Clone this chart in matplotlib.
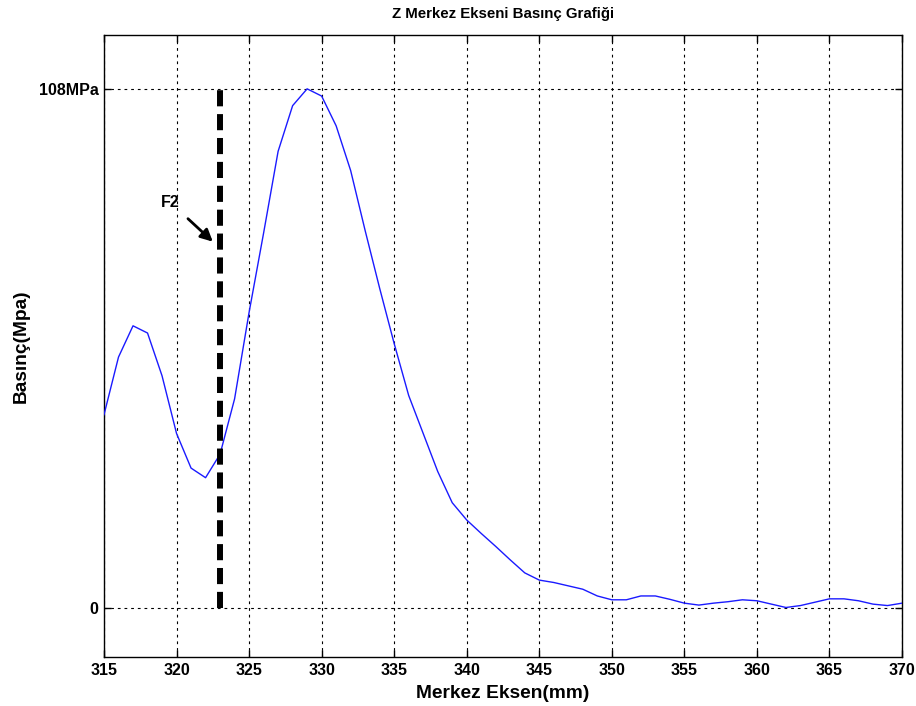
import numpy as np
import matplotlib
matplotlib.use("Agg")
import matplotlib.pyplot as plt

# Pressure along the Z centre axis
position_mm = np.arange(315, 371)
pressure_mpa = [
    40.2, 52.2, 58.7, 57.2, 48.3, 36.3, 29.1, 27.1, 32.0, 43.5,
    61.5, 78.0, 95.0, 104.5, 108.0, 106.5, 100.3, 91.0, 78.5, 66.5,
    55.0, 44.2, 36.3, 28.4, 21.9, 18.3, 15.5, 12.8, 10.0, 7.3,
    5.8, 5.3, 4.6, 3.9, 2.5, 1.7, 1.7, 2.5, 2.5, 1.8,
    1.0, 0.6, 1.0, 1.3, 1.7, 1.5, 0.8, 0.1, 0.5, 1.2,
    1.9, 1.9, 1.5, 0.8, 0.5, 1.0,
]

x_ticks = list(range(315, 371, 5))
y_ticks = [0, 108]
y_tick_labels = ["0", "108MPa"]

f2_position = 323
f2_top = 108

plt.rcParams["font.family"] = ["Liberation Sans", "DejaVu Sans"]

fig = plt.figure(figsize=(9.16, 7.06), dpi=100)
ax = fig.add_axes([104 / 916, 49 / 706, 798 / 916, 622 / 706])

ax.plot(position_mm, pressure_mpa, color="#1a1aff", lw=1.0, zorder=3)

# F2 marker line
ax.plot([f2_position, f2_position], [0, f2_top], color="black", lw=4.3,
        dashes=(2.7, 1.3), solid_capstyle="butt", dash_capstyle="butt", zorder=4)
ax.annotate("F2", xy=(322.5, 76.2), xytext=(319.6, 84.3),
            fontsize=11.5, fontweight="bold", ha="center", va="center",
            arrowprops=dict(arrowstyle="-|>", color="black", lw=2.0,
                            mutation_scale=18, shrinkA=6, shrinkB=0))

ax.set_xlim(315, 370)
ax.set_ylim(-10.2, 119.2)
ax.set_xticks(x_ticks)
ax.set_yticks(y_ticks)
ax.set_yticklabels(y_tick_labels)
ax.grid(True, color="black", linestyle=(0, (2.5, 3.5)), lw=0.8)
ax.tick_params(direction="in", length=5, width=1, top=True, right=True,
               labelsize=11.5, pad=4)
for lbl in ax.get_xticklabels() + ax.get_yticklabels():
    lbl.set_fontweight("bold")
for sp in ax.spines.values():
    sp.set_linewidth(1.0)

ax.set_title("Z Merkez Ekseni Basınç Grafiği", fontsize=10.8,
             fontweight="bold", pad=12)
ax.set_xlabel("Merkez Eksen(mm)", fontsize=13.8, fontweight="bold", labelpad=5)
ax.set_ylabel("Basınç(Mpa)", fontsize=13.8, fontweight="bold", labelpad=6)

fig.savefig("out.png", dpi=100)
